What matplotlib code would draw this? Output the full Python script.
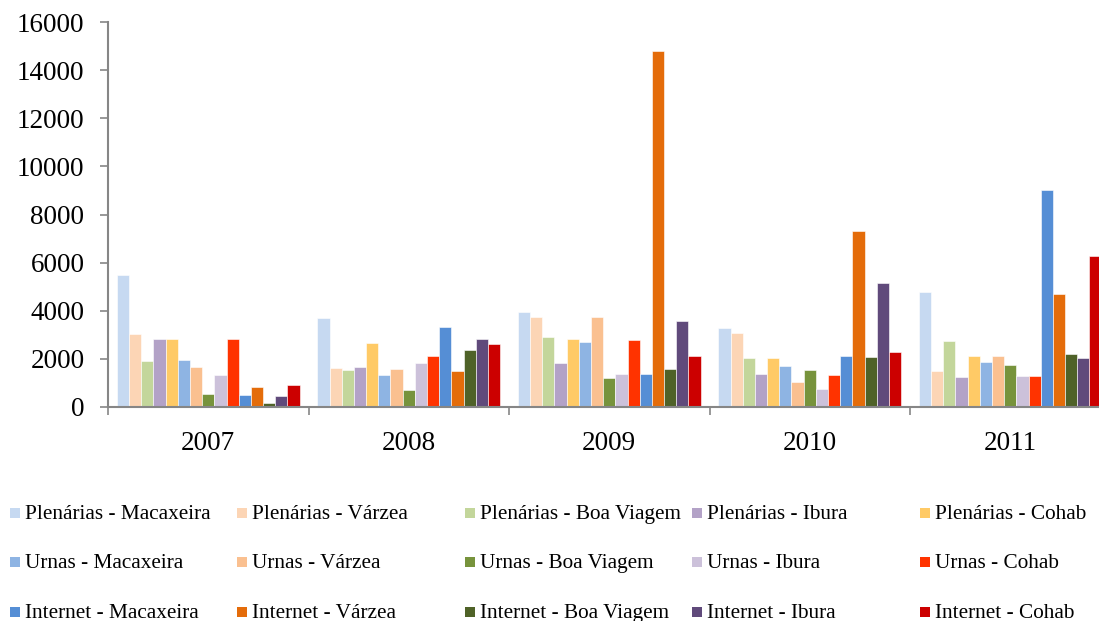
import matplotlib
matplotlib.use("Agg")
import matplotlib.pyplot as plt
from matplotlib.patches import Rectangle
import numpy as np

plt.rcParams['font.family'] = ['Liberation Serif', 'DejaVu Serif']

years = ["2007", "2008", "2009", "2010", "2011"]

series_names = [
    "Plenárias - Macaxeira", "Plenárias - Várzea", "Plenárias - Boa Viagem",
    "Plenárias - Ibura", "Plenárias - Cohab",
    "Urnas - Macaxeira", "Urnas - Várzea", "Urnas - Boa Viagem",
    "Urnas - Ibura", "Urnas - Cohab",
    "Internet - Macaxeira", "Internet - Várzea", "Internet - Boa Viagem",
    "Internet - Ibura", "Internet - Cohab",
]

series_colors = [
    "#C6D9F1", "#FCD5B5", "#C3D69B", "#B3A2C7", "#FFCA66",
    "#8EB4E3", "#FAC090", "#77933C", "#CCC1DA", "#FF3300",
    "#558ED5", "#E46C0A", "#4F6228", "#604A7B", "#CC0000",
]

# values per series, one entry per year (2007..2011)
plen_macaxeira = [5470, 3690, 3940, 3300, 4800]
plen_varzea = [3040, 1640, 3750, 3080, 1500]
plen_boa_viagem = [1900, 1550, 2890, 2030, 2740]
plen_ibura = [2810, 1680, 1840, 1380, 1260]
plen_cohab = [2810, 2640, 2810, 2020, 2140]
urnas_macaxeira = [1940, 1320, 2710, 1700, 1890]
urnas_varzea = [1660, 1560, 3760, 1030, 2140]
urnas_boa_viagem = [520, 700, 1210, 1520, 1750]
urnas_ibura = [1330, 1820, 1380, 730, 1270]
urnas_cohab = [2810, 2110, 2780, 1350, 1300]
internet_macaxeira = [500, 3330, 1370, 2110, 9030]
internet_varzea = [840, 1490, 14780, 7300, 4700]
internet_boa_viagem = [150, 2380, 1600, 2090, 2210]
internet_ibura = [460, 2820, 3560, 5150, 2020]
internet_cohab = [910, 2600, 2130, 2290, 6260]

series_values = [
    plen_macaxeira, plen_varzea, plen_boa_viagem, plen_ibura, plen_cohab,
    urnas_macaxeira, urnas_varzea, urnas_boa_viagem, urnas_ibura, urnas_cohab,
    internet_macaxeira, internet_varzea, internet_boa_viagem, internet_ibura,
    internet_cohab,
]

W, H = 1099, 621
fig = plt.figure(figsize=(W / 100, H / 100), dpi=100)
ax = fig.add_axes([108 / W, (H - 407) / H, 1002.5 / W, 385 / H])

n = len(series_values)
bar_w = 0.0607
x = np.arange(len(years))
for i, (vals, col) in enumerate(zip(series_values, series_colors)):
    ax.bar(x + (i - (n - 1) / 2) * bar_w, vals, width=bar_w, color=col,
           edgecolor="white", linewidth=0.4, zorder=2)

ax.set_xlim(-0.5, len(years) - 0.5)
ax.set_ylim(0, 16000)
ax.set_yticks(np.arange(0, 16001, 2000))
ax.tick_params(axis="y", direction="out", length=6, width=1.2,
               color="#868686", labelsize=19.5, pad=11, labelcolor="black")

# group boundaries as major ticks, year labels as minor ticks
ax.set_xticks(np.arange(-0.5, len(years), 1.0))
ax.set_xticklabels([])
ax.set_xticks(x, minor=True)
ax.set_xticklabels(years, minor=True)
ax.tick_params(axis="x", which="major", direction="out", length=6, width=1.2,
               color="#868686")
ax.tick_params(axis="x", which="minor", length=0, labelsize=19.5, pad=17)

for s in ("top", "right"):
    ax.spines[s].set_visible(False)
for s in ("left", "bottom"):
    ax.spines[s].set_color("#868686")
    ax.spines[s].set_linewidth(1.5)

# legend: 3 rows x 5 columns, filled row by row
col_x = [10, 237, 465, 692, 920]
row_y = [513, 562, 612]
sq = 10
for k, (name, col) in enumerate(zip(series_names, series_colors)):
    r, c = divmod(k, 5)
    x0, yc = col_x[c], row_y[r]
    fig.add_artist(Rectangle((x0 / W, (H - yc - sq / 2) / H), sq / W, sq / H,
                             transform=fig.transFigure, facecolor=col,
                             edgecolor="none"))
    fig.text((x0 + sq + 5) / W, (H - yc - 6) / H, name, fontsize=15.3,
             va="baseline", ha="left", color="black")

fig.savefig("out.png", dpi=100)
